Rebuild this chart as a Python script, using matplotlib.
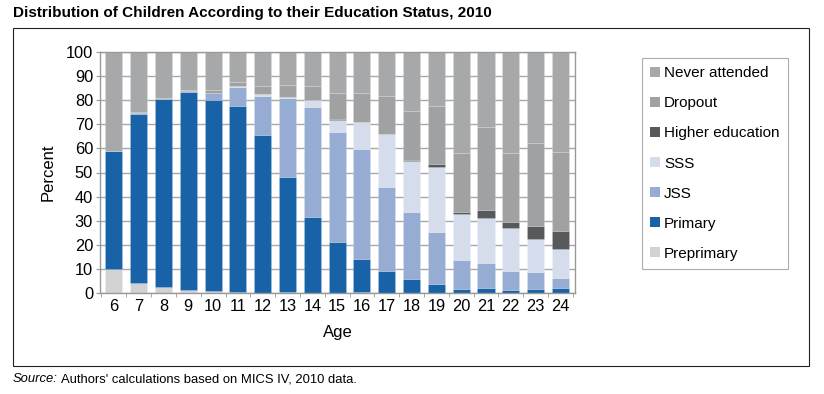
import matplotlib
matplotlib.use("Agg")
import matplotlib.pyplot as plt
import numpy as np
from matplotlib.patches import Rectangle

plt.rcParams["font.family"] = ["Liberation Sans", "DejaVu Sans"]

ages = list(range(6, 25))
series_names = ["Preprimary", "Primary", "JSS", "SSS", "Higher education", "Dropout", "Never attended"]
colors = ["#d1d2d3", "#1862a8", "#97acd3", "#d5dcec", "#58595b", "#a0a1a3", "#a7a8aa"]

preprimary = [10.0, 4.2, 2.6, 1.3, 0.8, 0.4, 0.2, 0.3, 0.2, 0.2, 0.5, 0.2, 0.1, 0.1, 0.1, 0.1, 0.1, 0.1, 0.1]
primary = [49.1, 69.9, 77.9, 82.0, 79.3, 77.3, 65.5, 47.7, 31.5, 20.9, 13.6, 9.1, 5.6, 3.5, 1.6, 1.9, 1.0, 1.4, 2.0]
jss = [0, 0.4, 0.2, 0.5, 2.9, 7.7, 16.2, 32.9, 45.5, 45.6, 45.7, 34.5, 28.1, 21.6, 12.2, 10.4, 8.2, 7.3, 4.0]
sss = [0, 0, 0, 0, 0, 0.3, 0.7, 0.6, 2.8, 5.0, 11.1, 22.0, 21.0, 27.1, 18.7, 18.6, 17.5, 13.7, 12.2]
higher = [0, 0, 0, 0, 0, 0, 0, 0, 0, 0.3, 0.2, 0.2, 0.3, 1.3, 1.2, 3.4, 2.8, 5.3, 7.4]
dropout = [0, 0.7, 0.4, 0.6, 1.2, 2.0, 3.2, 4.7, 5.8, 11.0, 11.7, 15.6, 20.3, 23.8, 24.4, 34.6, 28.6, 34.5, 32.6]
never = [40.9, 24.8, 18.9, 15.6, 15.8, 12.3, 14.2, 13.8, 14.2, 17.0, 17.2, 18.4, 24.6, 22.6, 41.8, 31.0, 41.8, 37.7, 41.7]

series = [preprimary, primary, jss, sss, higher, dropout, never]

fig = plt.figure(figsize=(8.24, 3.94), dpi=100)

# outer frame
fig.patches.append(Rectangle((13 / 824, 1 - 366 / 394), 796 / 824, 338 / 394,
                             transform=fig.transFigure, fill=False,
                             edgecolor="#222222", linewidth=0.8))

fig.text(13 / 824, 1 - 13 / 394, "Distribution of Children According to their Education Status, 2010",
         fontsize=11, fontweight="bold", va="center", ha="left",
         family=["Liberation Sans Narrow", "Liberation Sans"])

fig.text(13 / 824, 1 - 379 / 394, "Source:", fontsize=9.4, style="italic", va="center", ha="left")
fig.text(61 / 824, 1 - 379 / 394, "Authors' calculations based on MICS IV, 2010 data.",
         fontsize=9.4, va="center", ha="left")

ax = fig.add_axes([100 / 824, 1 - 293 / 394, 475 / 824, 241 / 394])

x = np.array(ages)
bottom = np.zeros(len(ages))
handles = []
for name, vals, col in zip(series_names, series, colors):
    vals = np.array(vals)
    b = ax.bar(x, vals, bottom=bottom, width=0.69, color=col, label=name,
               edgecolor=(1, 1, 1, 0.18), linewidth=0.5, zorder=2)
    handles.append(b)
    bottom += vals

ax.set_xlim(5.44, 24.59)
ax.set_ylim(0, 100)
ax.set_yticks(range(0, 101, 10))
ax.set_xticks(ages)
ax.set_xticks(np.arange(5.5, 25, 1), minor=True)
ax.tick_params(axis="x", which="major", length=0, labelsize=11.8, pad=4)
ax.tick_params(axis="x", which="minor", length=3, color="#999999")
ax.tick_params(axis="y", length=3, color="#999999", labelsize=11.8, pad=2)
ax.grid(axis="y", color="#a8a8a8", linewidth=1.0, zorder=0)
ax.set_axisbelow(True)
for s in ax.spines.values():
    s.set_color("#999999")
    s.set_linewidth(1.0)

ax.set_xlabel("Age", fontsize=12, labelpad=8)
ax.set_ylabel("Percent", fontsize=12, labelpad=7)

leg = ax.legend(handles[::-1], series_names[::-1], loc="upper left",
                bbox_to_anchor=(642 / 824, 1 - 58 / 394), bbox_transform=fig.transFigure,
                fontsize=11, frameon=True, fancybox=False, labelspacing=1.05,
                handlelength=0.65, handleheight=0.65, handletextpad=0.25,
                borderpad=0.55, borderaxespad=0)
leg.get_frame().set_edgecolor("#999999")
leg.get_frame().set_linewidth(0.8)
for p in leg.get_patches():
    p.set_edgecolor("none")

fig.savefig("out.png", dpi=100)
